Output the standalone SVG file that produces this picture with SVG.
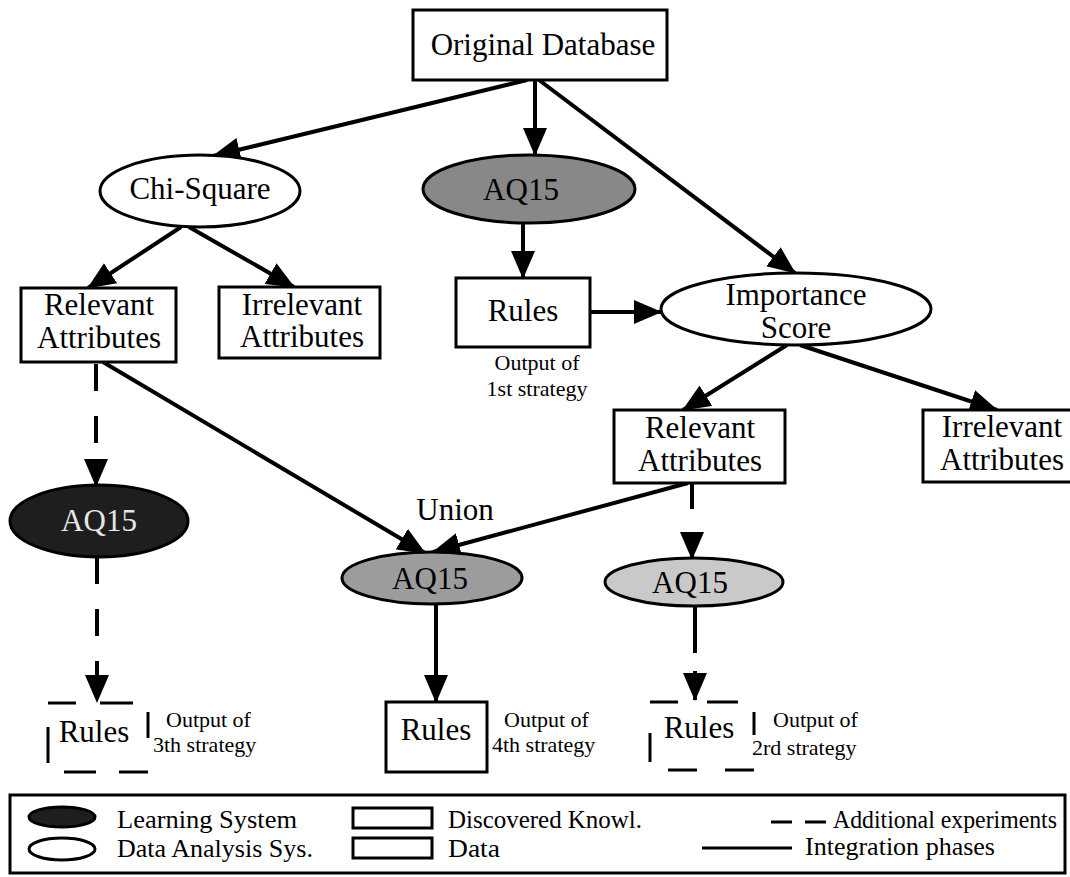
<svg xmlns="http://www.w3.org/2000/svg" width="1070" height="877" viewBox="0 0 1070 877">
<defs>
<marker id="ah" viewBox="0 0 28 24" markerWidth="28" markerHeight="24" refX="27" refY="12" orient="auto" markerUnits="userSpaceOnUse">
<path d="M0,0 L28,12 L0,24 z" fill="#000"/>
</marker>
<style>
.t{font-family:"Liberation Serif","Times New Roman",serif;font-size:31px;fill:#000;text-anchor:middle}
.s{font-family:"Liberation Serif","Times New Roman",serif;font-size:22px;fill:#000}
.lg{font-family:"Liberation Serif","Times New Roman",serif;font-size:25px;fill:#000}
.box{fill:#fff;stroke:#000;stroke-width:3}
.ell{stroke:#000;stroke-width:3}
.c{fill:none;stroke:#000;stroke-width:4;marker-end:url(#ah)}
.d{fill:none;stroke:#000;stroke-width:4;stroke-dasharray:27 25;marker-end:url(#ah)}
.db{fill:none;stroke:#000;stroke-width:3}
</style>
</defs>
<rect width="1070" height="877" fill="#fff"/>

<g id="connectors">
<path class="c" d="M527,80 L213,156"/>
<path class="c" d="M535,80 L535,155"/>
<path class="c" d="M539,80 L795,273"/>
<path class="c" d="M181,227 L88,288"/>
<path class="c" d="M189,227 L294,287"/>
<path class="c" d="M523,223 L523,278"/>
<path class="c" d="M590,312 L661,312"/>
<path class="c" d="M787,345 L683,410"/>
<path class="c" d="M800,345 L997,410"/>
<path class="c" d="M103,362 L425,553"/>
<path class="c" d="M688,483 L433,552"/>
<path class="d" d="M96,364 L96,486"/>
<path class="d" d="M97,557 L97,702"/>
<path class="d" d="M692,483 L692,559" style="stroke-dasharray:26 25"/>
<path class="d" d="M695,604 L695,700" style="stroke-dasharray:49 18"/>
<path class="c" d="M436,604 L436,702"/>
</g>

<g id="original-database">
<rect class="box" x="413" y="10" width="254" height="70"/>
<text class="t" x="543" y="55">Original Database</text>
</g>

<g id="chi-square">
<ellipse class="ell" cx="200" cy="191" rx="100" ry="36" fill="#fff"/>
<text class="t" x="200" y="199">Chi-Square</text>
</g>

<g id="aq15-top">
<ellipse class="ell" cx="529" cy="189" rx="106" ry="34" fill="#888"/>
<text class="t" x="521" y="200">AQ15</text>
</g>

<g id="rules-1st">
<rect class="box" x="456" y="278" width="134" height="69"/>
<text class="t" x="523" y="321">Rules</text>
<text class="s" x="537" y="370" text-anchor="middle">Output of</text>
<text class="s" x="537" y="396" text-anchor="middle">1st strategy</text>
</g>

<g id="relevant-left">
<rect class="box" x="21" y="288" width="155" height="74"/>
<text class="t" y="315"><tspan x="99">Relevant</tspan><tspan x="99" dy="33">Attributes</tspan></text>
</g>

<g id="irrelevant-left">
<rect class="box" x="219" y="287" width="161" height="71"/>
<text class="t" y="315"><tspan x="302">Irrelevant</tspan><tspan x="302" dy="32">Attributes</tspan></text>
</g>

<g id="importance-score">
<ellipse class="ell" cx="796" cy="309" rx="135" ry="36" fill="#fff"/>
<text class="t" y="305"><tspan x="796">Importance</tspan><tspan x="796" dy="33">Score</tspan></text>
</g>

<g id="relevant-right">
<rect class="box" x="614" y="410" width="171" height="73"/>
<text class="t" y="438"><tspan x="700">Relevant</tspan><tspan x="700" dy="33">Attributes</tspan></text>
</g>

<g id="irrelevant-right">
<rect class="box" x="923" y="410" width="155" height="72"/>
<text class="t" y="437"><tspan x="1002">Irrelevant</tspan><tspan x="1002" dy="33">Attributes</tspan></text>
</g>

<g id="aq15-left">
<ellipse class="ell" cx="99" cy="521" rx="89" ry="36" fill="#1e1e1e"/>
<text class="t" x="99" y="531" style="fill:#e6e6e6">AQ15</text>
</g>

<g id="aq15-union">
<text class="t" x="455" y="520">Union</text>
<ellipse class="ell" cx="432" cy="578" rx="90" ry="26" fill="#9c9c9c"/>
<text class="t" x="430" y="589">AQ15</text>
</g>

<g id="aq15-right">
<ellipse class="ell" cx="694" cy="582" rx="89" ry="24" fill="#c9c9c9"/>
<text class="t" x="690" y="593">AQ15</text>
</g>

<g id="rules-3th">
<path class="db" d="M48,703 H76 M100,703 H133 M48,727 V763 M148,712 V738 M64,772 H96 M119,772 H148"/>
<text class="t" x="94" y="742">Rules</text>
<text class="s" x="166" y="727">Output of</text>
<text class="s" x="153" y="752">3th strategy</text>
</g>

<g id="rules-4th">
<rect class="box" x="386" y="702" width="101" height="70"/>
<text class="t" x="436" y="740">Rules</text>
<text class="s" x="504" y="727">Output of</text>
<text class="s" x="492" y="752">4th strategy</text>
</g>

<g id="rules-2rd">
<path class="db" d="M650,702 H678 M707,702 H738 M650,733 V762 M754,712 V735 M668,770 H697 M725,770 H754"/>
<text class="t" x="699" y="738">Rules</text>
<text class="s" x="773" y="727">Output of</text>
<text class="s" x="752" y="755">2rd strategy</text>
</g>

<g id="legend">
<rect x="10" y="795" width="1055" height="78" fill="#fff" stroke="#000" stroke-width="3"/>
<ellipse cx="62" cy="817" rx="33" ry="10" fill="#1e1e1e" stroke="#000" stroke-width="3"/>
<text class="lg" x="117" y="828" textLength="180" lengthAdjust="spacingAndGlyphs">Learning System</text>
<ellipse cx="62" cy="849" rx="33" ry="11" fill="#fff" stroke="#000" stroke-width="3"/>
<text class="lg" x="117" y="857" textLength="196" lengthAdjust="spacingAndGlyphs">Data Analysis Sys.</text>
<rect x="353" y="808" width="79" height="20" fill="#fff" stroke="#000" stroke-width="3"/>
<text class="lg" x="448" y="828" textLength="194" lengthAdjust="spacingAndGlyphs">Discovered Knowl.</text>
<rect x="353" y="838" width="79" height="20" fill="#fff" stroke="#000" stroke-width="3"/>
<text class="lg" x="448" y="857" textLength="52" lengthAdjust="spacingAndGlyphs">Data</text>
<path d="M771,822 H792 M805,822 H826" stroke="#000" stroke-width="3" fill="none"/>
<text class="lg" x="833" y="828" textLength="224" lengthAdjust="spacingAndGlyphs">Additional experiments</text>
<path d="M702,848 H792" stroke="#000" stroke-width="3" fill="none"/>
<text class="lg" x="805" y="855" textLength="190" lengthAdjust="spacingAndGlyphs">Integration phases</text>
</g>
</svg>
